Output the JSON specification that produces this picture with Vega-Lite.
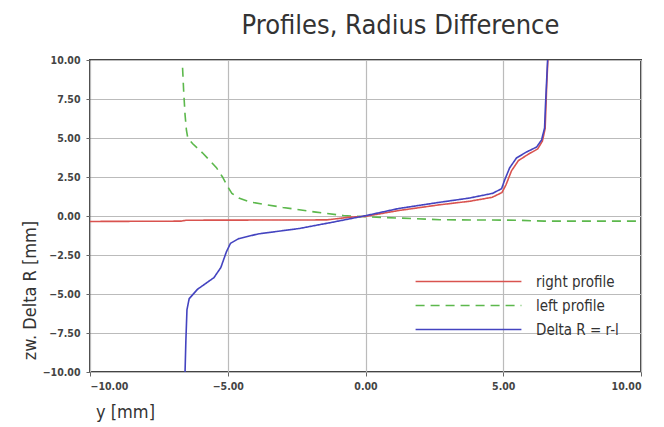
{
  "$schema": "https://vega.github.io/schema/vega-lite/v6.json",
  "width": 551,
  "height": 312,
  "autosize": {"type": "none"},
  "padding": {"left": 90, "top": 60, "right": 23, "bottom": 55},
  "background": "white",
  "title": {"text": "Profiles, Radius Difference", "font": "DejaVu Sans Condensed", "fontSize": 27, "fontWeight": "normal", "color": "#333", "anchor": "middle", "dx": 35, "offset": 15},
  "config": {
    "view": {"stroke": "#444", "strokeWidth": 2},
    "axis": {"labelFont": "DejaVu Sans Condensed", "labelFontSize": 10.5, "labelColor": "#444", "labelFontWeight": "bold", "titleFont": "DejaVu Sans Condensed", "titleFontSize": 18, "titleFontWeight": "normal", "titleColor": "#333", "gridColor": "#bbb", "gridWidth": 1.2, "domain": false, "tickColor": "#666", "tickSize": 4},
    "legend": {"orient": "none", "legendX": 371, "legendY": 214, "symbolType": "M-10,0H10", "symbolSize": 112, "labelFont": "DejaVu Sans Condensed", "labelFontSize": 15, "labelColor": "#333", "labelOffset": 60, "rowPadding": 8, "labelLimit": 200}
  },
  "data": {"values": [
    {"s": "left profile", "i": 1, "y": -6.64, "z": 9.5},
    {"s": "left profile", "i": 2, "y": -6.6, "z": 8.0},
    {"s": "left profile", "i": 3, "y": -6.55, "z": 6.5},
    {"s": "left profile", "i": 4, "y": -6.5, "z": 5.5},
    {"s": "left profile", "i": 5, "y": -6.45, "z": 5.0},
    {"s": "left profile", "i": 6, "y": -6.28, "z": 4.65},
    {"s": "left profile", "i": 7, "y": -5.92, "z": 4.05},
    {"s": "left profile", "i": 8, "y": -5.41, "z": 3.1},
    {"s": "left profile", "i": 9, "y": -5.19, "z": 2.5},
    {"s": "left profile", "i": 10, "y": -5.01, "z": 1.9},
    {"s": "left profile", "i": 11, "y": -4.85, "z": 1.45},
    {"s": "left profile", "i": 12, "y": -4.6, "z": 1.15},
    {"s": "left profile", "i": 13, "y": -4.2, "z": 0.9},
    {"s": "left profile", "i": 14, "y": -3.0, "z": 0.55},
    {"s": "left profile", "i": 15, "y": -1.8, "z": 0.25},
    {"s": "left profile", "i": 16, "y": -0.8, "z": 0.03},
    {"s": "left profile", "i": 17, "y": 0.0, "z": -0.05},
    {"s": "left profile", "i": 18, "y": 1.2, "z": -0.13},
    {"s": "left profile", "i": 19, "y": 2.7, "z": -0.24},
    {"s": "left profile", "i": 20, "y": 5.5, "z": -0.27},
    {"s": "left profile", "i": 21, "y": 6.5, "z": -0.33},
    {"s": "left profile", "i": 22, "y": 10.0, "z": -0.33},
    {"s": "right profile", "i": 1, "y": -10.0, "z": -0.35},
    {"s": "right profile", "i": 2, "y": -6.7, "z": -0.33},
    {"s": "right profile", "i": 3, "y": -6.5, "z": -0.27},
    {"s": "right profile", "i": 4, "y": -1.4, "z": -0.25},
    {"s": "right profile", "i": 5, "y": -0.6, "z": -0.08},
    {"s": "right profile", "i": 6, "y": 0.0, "z": -0.02},
    {"s": "right profile", "i": 7, "y": 1.2, "z": 0.35},
    {"s": "right profile", "i": 8, "y": 2.7, "z": 0.72},
    {"s": "right profile", "i": 9, "y": 3.8, "z": 0.95},
    {"s": "right profile", "i": 10, "y": 4.6, "z": 1.2},
    {"s": "right profile", "i": 11, "y": 4.95, "z": 1.5},
    {"s": "right profile", "i": 12, "y": 5.1, "z": 2.0},
    {"s": "right profile", "i": 13, "y": 5.3, "z": 2.9},
    {"s": "right profile", "i": 14, "y": 5.55, "z": 3.55},
    {"s": "right profile", "i": 15, "y": 5.9, "z": 3.95},
    {"s": "right profile", "i": 16, "y": 6.25, "z": 4.3},
    {"s": "right profile", "i": 17, "y": 6.42, "z": 4.8},
    {"s": "right profile", "i": 18, "y": 6.52, "z": 5.6},
    {"s": "right profile", "i": 19, "y": 6.55, "z": 7.0},
    {"s": "right profile", "i": 20, "y": 6.58, "z": 8.5},
    {"s": "right profile", "i": 21, "y": 6.62, "z": 10.0},
    {"s": "Delta R = r-l", "i": 1, "y": -6.55, "z": -10.0},
    {"s": "Delta R = r-l", "i": 2, "y": -6.52, "z": -8.0},
    {"s": "Delta R = r-l", "i": 3, "y": -6.48, "z": -6.0},
    {"s": "Delta R = r-l", "i": 4, "y": -6.4, "z": -5.3},
    {"s": "Delta R = r-l", "i": 5, "y": -6.1, "z": -4.7},
    {"s": "Delta R = r-l", "i": 6, "y": -5.5, "z": -3.95},
    {"s": "Delta R = r-l", "i": 7, "y": -5.25, "z": -3.3},
    {"s": "Delta R = r-l", "i": 8, "y": -5.05, "z": -2.3},
    {"s": "Delta R = r-l", "i": 9, "y": -4.9, "z": -1.75},
    {"s": "Delta R = r-l", "i": 10, "y": -4.6, "z": -1.45},
    {"s": "Delta R = r-l", "i": 11, "y": -3.9, "z": -1.15},
    {"s": "Delta R = r-l", "i": 12, "y": -2.4, "z": -0.8},
    {"s": "Delta R = r-l", "i": 13, "y": -1.2, "z": -0.4},
    {"s": "Delta R = r-l", "i": 14, "y": 0.0, "z": 0.02},
    {"s": "Delta R = r-l", "i": 15, "y": 1.2, "z": 0.48},
    {"s": "Delta R = r-l", "i": 16, "y": 2.7, "z": 0.88},
    {"s": "Delta R = r-l", "i": 17, "y": 3.77, "z": 1.15},
    {"s": "Delta R = r-l", "i": 18, "y": 4.61, "z": 1.45},
    {"s": "Delta R = r-l", "i": 19, "y": 4.94, "z": 1.75},
    {"s": "Delta R = r-l", "i": 20, "y": 5.05, "z": 2.3},
    {"s": "Delta R = r-l", "i": 21, "y": 5.23, "z": 3.08},
    {"s": "Delta R = r-l", "i": 22, "y": 5.48, "z": 3.72},
    {"s": "Delta R = r-l", "i": 23, "y": 5.84, "z": 4.1},
    {"s": "Delta R = r-l", "i": 24, "y": 6.21, "z": 4.42},
    {"s": "Delta R = r-l", "i": 25, "y": 6.39, "z": 4.87},
    {"s": "Delta R = r-l", "i": 26, "y": 6.5, "z": 5.64},
    {"s": "Delta R = r-l", "i": 27, "y": 6.53, "z": 7.0},
    {"s": "Delta R = r-l", "i": 28, "y": 6.57, "z": 8.5},
    {"s": "Delta R = r-l", "i": 29, "y": 6.61, "z": 10.0}
  ]},
  "mark": {"type": "line", "clip": true},
  "encoding": {
    "x": {"field": "y", "type": "quantitative", "scale": {"domain": [-10, 10], "nice": false},
      "axis": {"values": [-10, -5, 0, 5, 10], "format": ".2f", "title": "y [mm]", "titleX": 35, "titleY": 40, "titleBaseline": "middle", "labelPadding": 5}},
    "y": {"field": "z", "type": "quantitative", "scale": {"domain": [-10, 10], "nice": false},
      "axis": {"values": [-10, -7.5, -5, -2.5, 0, 2.5, 5, 7.5, 10], "format": ".2f", "title": "zw. Delta R [mm]", "titleX": -60, "titleY": 230, "titleAngle": -90, "titleAlign": "center", "titleBaseline": "middle", "labelPadding": 6}},
    "order": {"field": "i", "type": "quantitative"},
    "color": {"field": "s", "type": "nominal", "title": null,
      "scale": {"domain": ["right profile", "left profile", "Delta R = r-l"], "range": ["#d9534f", "#5cb84c", "#4444c0"]}},
    "strokeDash": {"field": "s", "type": "nominal", "title": null,
      "scale": {"domain": ["right profile", "left profile", "Delta R = r-l"], "range": [[1, 0], [9, 6], [1, 0]]}},
    "strokeWidth": {"field": "s", "type": "nominal", "title": null,
      "scale": {"domain": ["right profile", "left profile", "Delta R = r-l"], "range": [1.6, 1.6, 3]}}
  }
}
